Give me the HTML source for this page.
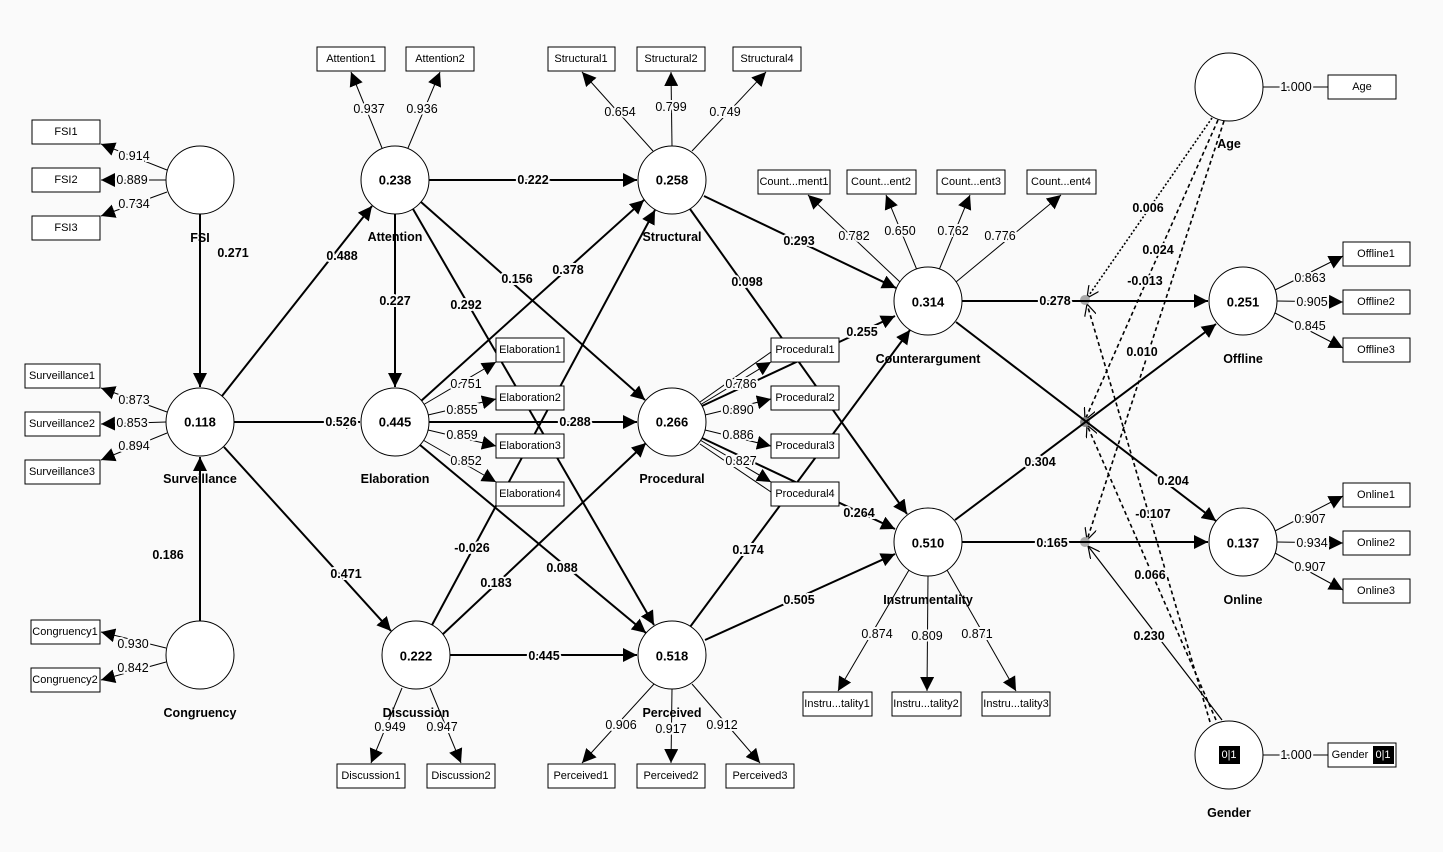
<!DOCTYPE html>
<html><head><meta charset="utf-8"><style>
html,body{margin:0;padding:0;background:#fafafa}
svg{display:block;font-family:"Liberation Sans",sans-serif}
.b{fill:#fff;stroke:#000;stroke-width:1}
.c{fill:#fff;stroke:#000;stroke-width:1}
.e{stroke:#000;stroke-width:2;fill:none}
.m{stroke:#000;stroke-width:1;fill:none}
.d{stroke:#000;stroke-width:1.6;fill:none;stroke-dasharray:4 3}
.dt{stroke:#000;stroke-width:1.6;fill:none;stroke-dasharray:2 2}
.bt{font-size:11px;text-anchor:middle;dominant-baseline:central}
.lv{font-size:13px;font-weight:bold;text-anchor:middle;dominant-baseline:central}
.nm{font-size:12.5px;font-weight:bold;text-anchor:middle;dominant-baseline:central}
.pl{font-size:12.5px;font-weight:bold;text-anchor:middle;dominant-baseline:central;paint-order:stroke;stroke:#fafafa;stroke-width:4px}
.ld{font-size:12.5px;text-anchor:middle;dominant-baseline:central;paint-order:stroke;stroke:#fafafa;stroke-width:4px}
</style></head><body>
<svg width="1443" height="852" viewBox="0 0 1443 852">
<defs>
<marker id="a" viewBox="0 0 10 10" refX="10" refY="5" markerWidth="7" markerHeight="7" orient="auto" markerUnits="userSpaceOnUse"><path d="M0,0L10,5L0,10z"/></marker>
<marker id="A" viewBox="0 0 10 10" refX="10" refY="5" markerWidth="14" markerHeight="14" orient="auto" markerUnits="userSpaceOnUse"><path d="M0,0L10,5L0,10z"/></marker>
<marker id="o" viewBox="0 0 10 10" refX="10" refY="5" markerWidth="12" markerHeight="12" orient="auto" markerUnits="userSpaceOnUse"><path d="M0,0L10,5L0,10" fill="none" stroke="#000" stroke-width="1"/></marker>
</defs>

<g>
<line class="dt" x1="1212" y1="118" x2="1087" y2="298" marker-end="url(#o)"/>
<line class="d" x1="1218" y1="120" x2="1085" y2="420" marker-end="url(#o)"/>
<line class="d" x1="1224" y1="121" x2="1087" y2="540" marker-end="url(#o)"/>
<line class="d" x1="1210" y1="722" x2="1087" y2="304" marker-end="url(#o)"/>
<line class="d" x1="1216" y1="720" x2="1087" y2="425" marker-end="url(#o)"/>
<line stroke="#000" stroke-width="1.2" x1="1222" y1="720" x2="1088" y2="546" marker-end="url(#o)"/>
<circle cx="1085" cy="300" r="5" fill="#aaa"/>
<circle cx="1085" cy="422" r="5" fill="#888"/>
<circle cx="1085" cy="542" r="5" fill="#aaa"/>
</g>

<g class="e" marker-end="url(#A)">
<line x1="200" y1="214" x2="200" y2="387"/>
<line x1="200" y1="621" x2="200" y2="457"/>
<line x1="222" y1="396" x2="372" y2="206"/>
<line x1="234" y1="422" x2="360" y2="422"/>
<line x1="224" y1="447" x2="391" y2="631"/>
<line x1="395" y1="214" x2="395" y2="387"/>
<line x1="429" y1="180" x2="637" y2="180"/>
<line x1="421" y1="202" x2="645" y2="400"/>
<line x1="413" y1="209" x2="654" y2="625"/>
<line x1="421" y1="401" x2="644" y2="200"/>
<line x1="429" y1="422" x2="637" y2="422"/>
<line x1="420" y1="445" x2="646" y2="633"/>
<line x1="432" y1="625" x2="655" y2="210"/>
<line x1="442" y1="635" x2="646" y2="443"/>
<line x1="450" y1="655" x2="637" y2="655"/>
<line x1="704" y1="196" x2="896" y2="288"/>
<line x1="690" y1="209" x2="907" y2="514"/>
<line x1="702" y1="406" x2="895" y2="316"/>
<line x1="702" y1="438" x2="895" y2="529"/>
<line x1="690" y1="627" x2="910" y2="330"/>
<line x1="705" y1="640" x2="895" y2="554"/>
<line x1="962" y1="301" x2="1208" y2="301"/>
<line x1="956" y1="322" x2="1216" y2="521"/>
<line x1="955" y1="520" x2="1216" y2="324"/>
<line x1="962" y1="542" x2="1208" y2="542"/>
</g>

<g class="m" marker-end="url(#A)">
<line x1="167" y1="170" x2="101" y2="144"/>
<line x1="166" y1="180" x2="101" y2="180"/>
<line x1="167" y1="192" x2="101" y2="216"/>
<line x1="167" y1="412" x2="101" y2="388"/>
<line x1="166" y1="422" x2="101" y2="424"/>
<line x1="167" y1="433" x2="101" y2="460"/>
<line x1="166" y1="648" x2="101" y2="632"/>
<line x1="166" y1="662" x2="101" y2="680"/>
<line x1="382" y1="148" x2="351" y2="72"/>
<line x1="408" y1="148" x2="440" y2="72"/>
<line x1="653" y1="151" x2="582" y2="72"/>
<line x1="672" y1="146" x2="671" y2="72"/>
<line x1="692" y1="151" x2="766" y2="72"/>
<line x1="900" y1="282" x2="808" y2="195"/>
<line x1="917" y1="270" x2="886" y2="195"/>
<line x1="939" y1="270" x2="970" y2="195"/>
<line x1="956" y1="282" x2="1061" y2="195"/>
<line x1="909" y1="570" x2="838" y2="691"/>
<line x1="928" y1="576" x2="927" y2="691"/>
<line x1="947" y1="570" x2="1016" y2="691"/>
<line x1="402" y1="688" x2="371" y2="763"/>
<line x1="430" y1="688" x2="461" y2="763"/>
<line x1="654" y1="684" x2="582" y2="763"/>
<line x1="672" y1="689" x2="671" y2="763"/>
<line x1="692" y1="684" x2="760" y2="763"/>
<line x1="423" y1="405" x2="496" y2="362"/>
<line x1="428" y1="415" x2="496" y2="399"/>
<line x1="428" y1="430" x2="496" y2="446"/>
<line x1="423" y1="440" x2="496" y2="482"/>
<line x1="700" y1="405" x2="771" y2="362"/>
<line x1="705" y1="415" x2="771" y2="399"/>
<line x1="705" y1="430" x2="771" y2="446"/>
<line x1="700" y1="440" x2="771" y2="482"/>
<line x1="1275" y1="290" x2="1343" y2="256"/>
<line x1="1277" y1="301" x2="1343" y2="302"/>
<line x1="1275" y1="313" x2="1343" y2="348"/>
<line x1="1275" y1="531" x2="1343" y2="496"/>
<line x1="1277" y1="542" x2="1343" y2="543"/>
<line x1="1275" y1="553" x2="1343" y2="590"/>
</g>
<line class="m" x1="1263" y1="87" x2="1328" y2="87"/>
<line class="m" x1="1263" y1="755" x2="1328" y2="755"/>
<g class="m"><line x1="700" y1="402" x2="771" y2="352"/><line x1="700" y1="444" x2="771" y2="492"/></g>

<g class="c">
<circle cx="200" cy="180" r="34"/><circle cx="200" cy="422" r="34"/><circle cx="200" cy="655" r="34"/>
<circle cx="395" cy="180" r="34"/><circle cx="395" cy="422" r="34"/><circle cx="416" cy="655" r="34"/>
<circle cx="672" cy="180" r="34"/><circle cx="672" cy="422" r="34"/><circle cx="672" cy="655" r="34"/>
<circle cx="928" cy="301" r="34"/><circle cx="928" cy="542" r="34"/>
<circle cx="1243" cy="301" r="34"/><circle cx="1243" cy="542" r="34"/>
<circle cx="1229" cy="87" r="34"/><circle cx="1229" cy="755" r="34"/>
</g>
<g class="lv">
<text x="200" y="422">0.118</text><text x="395" y="180">0.238</text><text x="395" y="422">0.445</text><text x="416" y="656">0.222</text>
<text x="672" y="180">0.258</text><text x="672" y="422">0.266</text><text x="672" y="656">0.518</text>
<text x="928" y="302">0.314</text><text x="928" y="543">0.510</text><text x="1243" y="302">0.251</text><text x="1243" y="543">0.137</text>
</g>
<rect x="1219" y="746" width="21" height="18" fill="#000"/><text x="1229" y="755" class="bt" fill="#fff" font-size="14">0|1</text>
<g class="nm">
<text x="200" y="238">FSI</text><text x="200" y="479">Surveillance</text><text x="200" y="713">Congruency</text>
<text x="395" y="237">Attention</text><text x="395" y="479">Elaboration</text><text x="416" y="713">Discussion</text>
<text x="672" y="237">Structural</text><text x="672" y="479">Procedural</text><text x="672" y="713">Perceived</text>
<text x="928" y="359">Counterargument</text><text x="928" y="600">Instrumentality</text>
<text x="1243" y="359">Offline</text><text x="1243" y="600">Online</text><text x="1229" y="144">Age</text><text x="1229" y="813">Gender</text>
</g>

<g class="b">
<rect x="32" y="120" width="68" height="24"/><rect x="32" y="168" width="68" height="24"/><rect x="32" y="216" width="68" height="24"/>
<rect x="25" y="364" width="75" height="24"/><rect x="25" y="412" width="75" height="24"/><rect x="25" y="460" width="75" height="24"/>
<rect x="31" y="620" width="69" height="24"/><rect x="31" y="668" width="69" height="24"/>
<rect x="317" y="47" width="68" height="24"/><rect x="406" y="47" width="68" height="24"/>
<rect x="548" y="47" width="67" height="24"/><rect x="637" y="47" width="68" height="24"/><rect x="733" y="47" width="68" height="24"/>
<rect x="758" y="170" width="72" height="24"/><rect x="847" y="170" width="69" height="24"/><rect x="937" y="170" width="68" height="24"/><rect x="1027" y="170" width="69" height="24"/>
<rect x="496" y="338" width="68" height="24"/><rect x="496" y="386" width="68" height="24"/><rect x="496" y="434" width="68" height="24"/><rect x="496" y="482" width="68" height="24"/>
<rect x="771" y="338" width="68" height="24"/><rect x="771" y="386" width="68" height="24"/><rect x="771" y="434" width="68" height="24"/><rect x="771" y="482" width="68" height="24"/>
<rect x="803" y="692" width="69" height="24"/><rect x="892" y="692" width="69" height="24"/><rect x="982" y="692" width="68" height="24"/>
<rect x="337" y="764" width="68" height="24"/><rect x="427" y="764" width="68" height="24"/>
<rect x="548" y="764" width="67" height="24"/><rect x="637" y="764" width="68" height="24"/><rect x="726" y="764" width="68" height="24"/>
<rect x="1343" y="242" width="67" height="24"/><rect x="1343" y="290" width="67" height="24"/><rect x="1343" y="338" width="67" height="24"/>
<rect x="1343" y="483" width="67" height="24"/><rect x="1343" y="531" width="67" height="24"/><rect x="1343" y="579" width="67" height="24"/>
<rect x="1328" y="75" width="68" height="24"/><rect x="1328" y="743" width="68" height="24"/>
</g>
<g class="bt">
<text x="66" y="132">FSI1</text><text x="66" y="180">FSI2</text><text x="66" y="228">FSI3</text>
<text x="62" y="376">Surveillance1</text><text x="62" y="424">Surveillance2</text><text x="62" y="472">Surveillance3</text>
<text x="65" y="632">Congruency1</text><text x="65" y="680">Congruency2</text>
<text x="351" y="59">Attention1</text><text x="440" y="59">Attention2</text>
<text x="581" y="59">Structural1</text><text x="671" y="59">Structural2</text><text x="767" y="59">Structural4</text>
<text x="794" y="182">Count...ment1</text><text x="881" y="182">Count...ent2</text><text x="971" y="182">Count...ent3</text><text x="1061" y="182">Count...ent4</text>
<text x="530" y="350">Elaboration1</text><text x="530" y="398">Elaboration2</text><text x="530" y="446">Elaboration3</text><text x="530" y="494">Elaboration4</text>
<text x="805" y="350">Procedural1</text><text x="805" y="398">Procedural2</text><text x="805" y="446">Procedural3</text><text x="805" y="494">Procedural4</text>
<text x="837" y="704">Instru...tality1</text><text x="926" y="704">Instru...tality2</text><text x="1016" y="704">Instru...tality3</text>
<text x="371" y="776">Discussion1</text><text x="461" y="776">Discussion2</text>
<text x="581" y="776">Perceived1</text><text x="671" y="776">Perceived2</text><text x="760" y="776">Perceived3</text>
<text x="1376" y="254">Offline1</text><text x="1376" y="302">Offline2</text><text x="1376" y="350">Offline3</text>
<text x="1376" y="495">Online1</text><text x="1376" y="543">Online2</text><text x="1376" y="591">Online3</text>
<text x="1362" y="87">Age</text><text x="1350" y="755">Gender</text>
</g>
<rect x="1373" y="746" width="21" height="18" fill="#000"/><text x="1383" y="755" class="bt" fill="#fff" font-size="14">0|1</text>

<g class="pl">
<text x="233" y="253">0.271</text><text x="168" y="555">0.186</text><text x="342" y="256">0.488</text><text x="341" y="422">0.526</text>
<text x="346" y="574">0.471</text><text x="395" y="301">0.227</text><text x="533" y="180">0.222</text><text x="517" y="279">0.156</text>
<text x="466" y="305">0.292</text><text x="568" y="270">0.378</text><text x="575" y="422">0.288</text><text x="562" y="568">0.088</text>
<text x="472" y="548">-0.026</text><text x="496" y="583">0.183</text><text x="544" y="656">0.445</text>
<text x="799" y="241">0.293</text><text x="747" y="282">0.098</text><text x="862" y="332">0.255</text><text x="859" y="513">0.264</text>
<text x="748" y="550">0.174</text><text x="799" y="600">0.505</text><text x="1055" y="301">0.278</text><text x="1173" y="481">0.204</text>
<text x="1040" y="462">0.304</text><text x="1052" y="543">0.165</text>
<text x="1148" y="208">0.006</text><text x="1158" y="250">0.024</text><text x="1145" y="281">-0.013</text><text x="1142" y="352">0.010</text>
<text x="1153" y="514">-0.107</text><text x="1150" y="575">0.066</text><text x="1149" y="636">0.230</text>
</g>
<g class="ld">
<text x="134" y="156">0.914</text><text x="132" y="180">0.889</text><text x="134" y="204">0.734</text>
<text x="134" y="400">0.873</text><text x="132" y="423">0.853</text><text x="134" y="446">0.894</text>
<text x="133" y="644">0.930</text><text x="133" y="668">0.842</text>
<text x="369" y="109">0.937</text><text x="422" y="109">0.936</text>
<text x="620" y="112">0.654</text><text x="671" y="107">0.799</text><text x="725" y="112">0.749</text>
<text x="854" y="236">0.782</text><text x="900" y="231">0.650</text><text x="953" y="231">0.762</text><text x="1000" y="236">0.776</text>
<text x="877" y="634">0.874</text><text x="927" y="636">0.809</text><text x="977" y="634">0.871</text>
<text x="390" y="727">0.949</text><text x="442" y="727">0.947</text>
<text x="621" y="725">0.906</text><text x="671" y="729">0.917</text><text x="722" y="725">0.912</text>
<text x="466" y="384">0.751</text><text x="462" y="410">0.855</text><text x="462" y="435">0.859</text><text x="466" y="461">0.852</text>
<text x="741" y="384">0.786</text><text x="738" y="410">0.890</text><text x="738" y="435">0.886</text><text x="741" y="461">0.827</text>
<text x="1310" y="278">0.863</text><text x="1312" y="302">0.905</text><text x="1310" y="326">0.845</text>
<text x="1310" y="519">0.907</text><text x="1312" y="543">0.934</text><text x="1310" y="567">0.907</text>
<text x="1296" y="87">1.000</text><text x="1296" y="755">1.000</text>
</g>
</svg>
</body></html>
